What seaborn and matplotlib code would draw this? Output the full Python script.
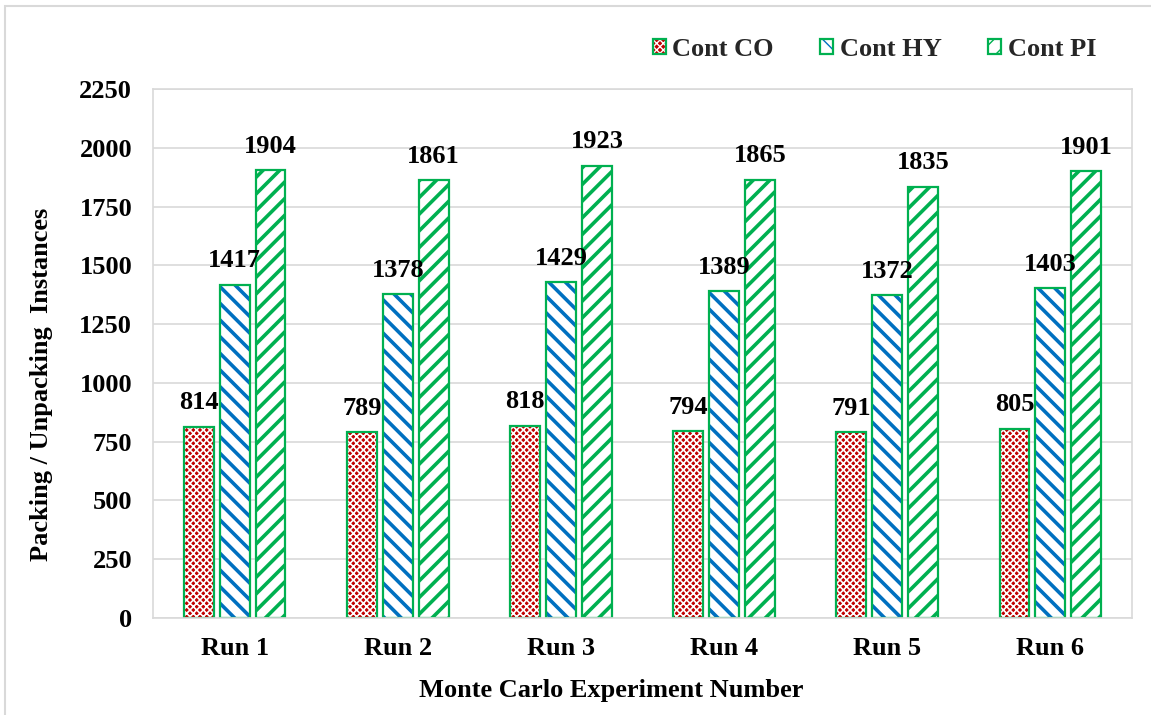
import matplotlib
matplotlib.use("Agg")
import matplotlib.pyplot as plt
from matplotlib.patches import Patch, Rectangle
from matplotlib.legend_handler import HandlerTuple
import seaborn as sns
import pandas as pd

runs = ["Run 1", "Run 2", "Run 3", "Run 4", "Run 5", "Run 6"]
series = ["Cont CO", "Cont HY", "Cont PI"]
cont_co = [814, 789, 818, 794, 791, 805]
cont_hy = [1417, 1378, 1429, 1389, 1372, 1403]
cont_pi = [1904, 1861, 1923, 1865, 1835, 1901]
y_ticks = [0, 250, 500, 750, 1000, 1250, 1500, 1750, 2000, 2250]

EDGE = "#00B050"
FS = 19
styles = {
    "Cont CO": dict(face="#C00000", hatch="xxxxx", hcolor="white", hlw=1.2),
    "Cont HY": dict(face="white", hatch="\\\\", hcolor="#0070C0", hlw=2.6),
    "Cont PI": dict(face="white", hatch="//", hcolor="#00B050", hlw=2.6),
}

df = pd.DataFrame({
    "run": runs * 3,
    "series": [s for s in series for _ in runs],
    "value": cont_co + cont_hy + cont_pi,
})

sns.set_theme(style="white")
plt.rcParams["font.family"] = ["Liberation Serif", "DejaVu Serif"]
plt.rcParams["font.weight"] = "bold"

fig = plt.figure(figsize=(11.51, 7.15), dpi=100)
ax = fig.add_axes([153 / 1151, 1 - 618 / 715, (1132 - 153) / 1151, (618 - 89) / 715])

sns.barplot(data=df, x="run", y="value", hue="series", order=runs,
            hue_order=series, width=0.66, gap=0.167, ax=ax,
            palette=["#C00000", "white", "white"], legend=False,
            errorbar=None)


def style_bar(bar, st):
    bar.set_facecolor(st["face"])
    bar.set_hatch(st["hatch"])
    bar.set_edgecolor(st["hcolor"])
    bar.set_linewidth(0)
    if hasattr(bar, "set_hatch_linewidth"):
        bar.set_hatch_linewidth(st["hlw"])


for name, cont in zip(series, ax.containers):
    st = styles[name]
    for bar in cont:
        style_bar(bar, st)
        ax.add_patch(Rectangle(bar.get_xy(), bar.get_width(), bar.get_height(),
                               fill=False, edgecolor=EDGE, linewidth=1.6,
                               zorder=bar.get_zorder() + 0.1))
    ax.bar_label(cont, labels=[str(int(b.get_height())) for b in cont],
                 padding=9, fontsize=FS, fontweight="bold", color="black")

ax.set_ylim(0, 2250)
ax.set_yticks(y_ticks)
ax.set_yticklabels([str(t) for t in y_ticks])
ax.grid(axis="y", color="#D9D9D9", linewidth=1.2)
ax.set_axisbelow(True)
for sp in ax.spines.values():
    sp.set_visible(True)
    sp.set_color("#D9D9D9")
    sp.set_linewidth(1.2)
ax.tick_params(axis="both", length=0, labelsize=FS)
ax.tick_params(axis="y", pad=15)
ax.tick_params(axis="x", pad=14)
for lab in ax.get_xticklabels() + ax.get_yticklabels():
    lab.set_fontweight("bold")
    lab.set_color("black")

ax.set_xlabel("Monte Carlo Experiment Number", fontsize=FS, fontweight="bold",
              color="black")
ax.set_ylabel("Packing / Unpacking  Instances", fontsize=FS, fontweight="bold",
              color="black")
ax.xaxis.set_label_coords(0.468, -0.115)
ax.yaxis.set_label_coords(-0.102, 0.442)

handles = []
for name in series:
    st = styles[name]
    fill = Patch(facecolor=st["face"], hatch=st["hatch"], edgecolor=st["hcolor"],
                 linewidth=0)
    if hasattr(fill, "set_hatch_linewidth"):
        fill.set_hatch_linewidth(st["hlw"])
    outline = Patch(facecolor="none", edgecolor=EDGE, linewidth=1.6)
    handles.append((fill, outline))
leg = fig.legend(handles=handles, labels=series, loc="upper right",
                 handler_map={tuple: HandlerTuple(ndivide=1)},
                 bbox_to_anchor=(1120 / 1151, 1 - 14 / 715), ncol=3,
                 frameon=False, handlelength=0.5, handleheight=0.5,
                 handletextpad=0.25, columnspacing=1.75,
                 prop={"weight": "bold", "size": FS})

# light outer frame around the chart
fig.add_artist(Rectangle((5 / 1151, -0.01), 1.2, 1 - 6 / 715 + 0.01,
                         transform=fig.transFigure, fill=False,
                         edgecolor="#D9D9D9", linewidth=1.5))

fig.savefig("out.png", dpi=100)
